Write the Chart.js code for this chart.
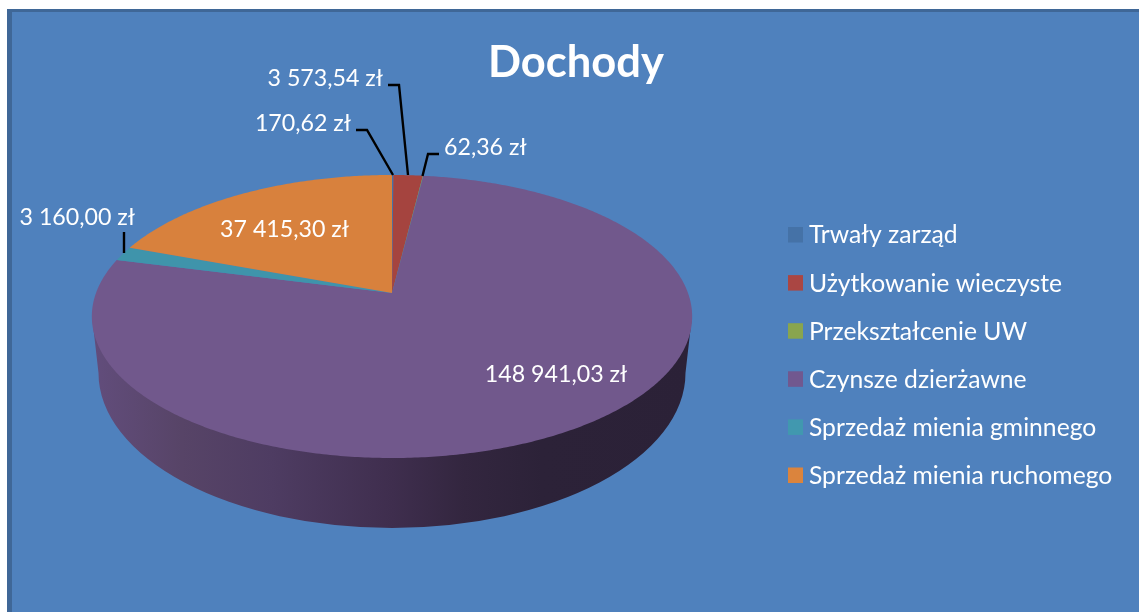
<!DOCTYPE html>
<html><head><meta charset="utf-8">
<style>html,body{margin:0;padding:0;background:#fff}canvas{display:block}</style>
<script src="https://cdn.jsdelivr.net/npm/chart.js@4"></script>
</head><body>
<canvas id="c" width="1139" height="612"></canvas>
<script>
const titleText = 'Dochody';
const categories = ['Trwały zarząd','Użytkowanie wieczyste','Przekształcenie UW','Czynsze dzierżawne','Sprzedaż mienia gminnego','Sprzedaż mienia ruchomego'];
const values = [170.62, 3573.54, 62.36, 148941.03, 3160.00, 37415.30];
const colors = ['#4572A7','#AA4643','#89A54E','#71588F','#4198AF','#DB843D'];
const sliceColors = ['#4572A7','#A5443F','#89A54E','#71588C','#3F94AB','#D8813D'];

const FONT = 'Lato, Carlito, sans-serif';
const LABEL_SIZE = 23.2;
const LEGEND_SIZE = 24.7;
const labelSpots = [
  {x:351,y:124,align:'right',line:[[356,130],[367,130],[393,175]]},
  {x:383,y:79,align:'right',line:[[388,85],[399,85],[408,175]]},
  {x:444,y:148,align:'left',line:[[439,154],[428,154],[422.5,176]]},
  {x:556,y:375,align:'center',line:null},
  {x:135,y:218,align:'right',line:[[124,232],[124,253]]},
  {x:284.5,y:230,align:'center',line:null}
];
const fmt = v => {
  const [i,d] = v.toFixed(2).split('.');
  return i.replace(/\B(?=(\d{3})+$)/g,' ') + ',' + d + ' zł';
};
// perspective of the disc
const P = -0.166, KX = 296/293, KY = 137.6/293;
const project = (el,ux,uy) => {
  const r = el.outerRadius, w = 1 + P*uy;
  return [el.x + r*KX*ux/w, el.y + r*KY*uy/w];
};
const plugin3d = {
  id:'pie3d',
  beforeDraw(chart){
    const c = chart.ctx;
    c.save();
    c.fillStyle='#ffffff'; c.fillRect(0,0,1139,612);
    c.fillStyle='#3F6797'; c.fillRect(7,9,1132,603);
    c.fillStyle='#4F81BD'; c.fillRect(12,12,1127,600);
    c.restore();
  },
  beforeDatasetsDraw(chart){
    const c = chart.ctx, el = chart.getDatasetMeta(0).data[0];
    const r = el.outerRadius;
    // side wall
    const topCy = el.y + r*0.0785, lowCy = el.y + r*0.273;
    const g = c.createLinearGradient(92,0,692,0);
    [[0,'#624D7C'],[0.15,'#574467'],[0.3,'#4E3C62'],[0.5,'#3F2E4E'],[0.62,'#33263F'],[0.75,'#2C2238'],[1,'#2B2137']].forEach(s=>g.addColorStop(s[0],s[1]));
    c.save();
    c.beginPath();
    c.moveTo(el.x - r*1.0239, topCy);
    c.lineTo(el.x - r*1.0017, lowCy);
    c.ellipse(el.x, lowCy, r*1.0017, r*0.529, 0, Math.PI, 0, true);
    c.lineTo(el.x + r*1.0239, topCy);
    c.closePath();
    c.fillStyle = g; c.fill();
    c.restore();
  },
  beforeDatasetDraw(chart){
    const c = chart.ctx, meta = chart.getDatasetMeta(0);
    meta.data.forEach((el,i)=>{
      const a0 = el.startAngle, a1 = el.endAngle, n = Math.max(2,Math.ceil((a1-a0)/0.01));
      c.beginPath();
      c.moveTo(el.x, el.y);
      for(let k=0;k<=n;k++){
        const a = a0+(a1-a0)*k/n, p = project(el,Math.cos(a),Math.sin(a));
        c.lineTo(p[0],p[1]);
      }
      c.closePath();
      c.fillStyle = sliceColors[i];
      c.fill();
    });
    return false;
  },
  afterDatasetsDraw(chart){
    const c = chart.ctx;
    c.save();
    c.strokeStyle='#000'; c.lineWidth=2.4; c.lineJoin='miter';
    labelSpots.forEach(s=>{ if(!s.line) return;
      c.beginPath(); s.line.forEach((p,i)=> i?c.lineTo(p[0],p[1]):c.moveTo(p[0],p[1])); c.stroke(); });
    c.fillStyle='#fff'; c.textBaseline='middle';
    c.font = LABEL_SIZE+'px '+FONT;
    labelSpots.forEach((s,i)=>{ c.textAlign=s.align; c.fillText(fmt(values[i]),s.x,s.y); });
    // title
    c.textAlign='center'; c.font='bold 43.5px '+FONT; c.fillText(titleText,576,63);
    // legend
    c.font = LEGEND_SIZE+'px '+FONT; c.textAlign='left';
    categories.forEach((t,i)=>{
      const y = 235.5 + i*48.1;
      c.fillStyle=colors[i]; c.fillRect(788,y-8.5,15,15.5);
      c.fillStyle='#fff'; c.fillText(t,809,y);
    });
    c.restore();
  }
};
new Chart(document.getElementById('c'),{
  type:'pie',
  data:{labels:categories,datasets:[{data:values,backgroundColor:sliceColors,borderWidth:0}]},
  options:{
    responsive:false,animation:false,
    layout:{padding:{left:99,right:454,top:0,bottom:26}},
    plugins:{legend:{display:false},title:{display:false},tooltip:{enabled:false}}
  },
  plugins:[plugin3d]
});
</script>
</body></html>
